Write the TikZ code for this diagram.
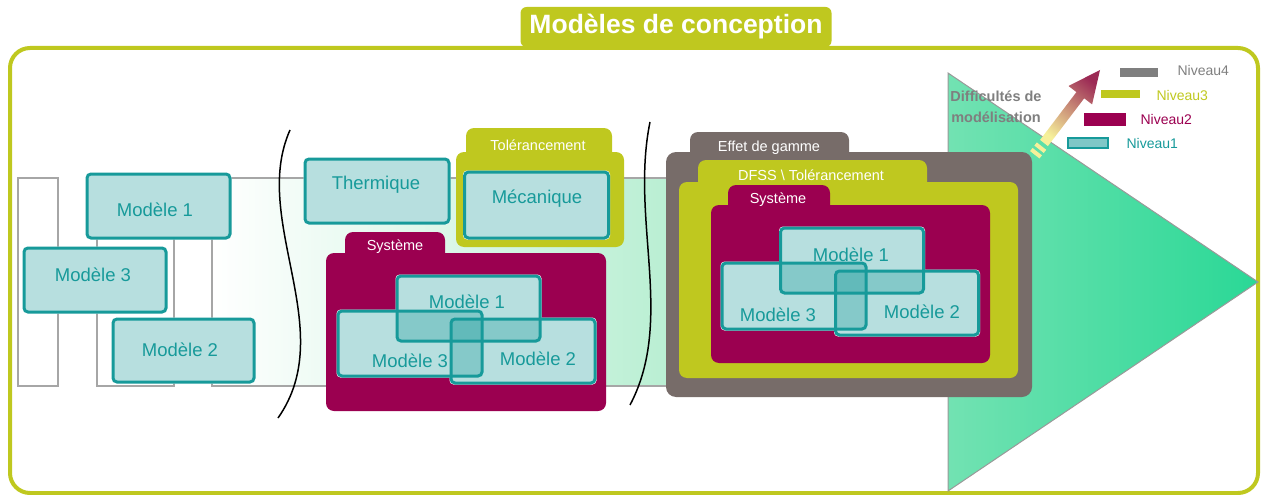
\documentclass[tikz,border=0pt]{standalone}
\usepackage{fontspec}
\setmainfont{Liberation Sans}

\definecolor{vertolive}{HTML}{BFC81F}
\definecolor{bordeaux}{HTML}{9B0050}
\definecolor{taupe}{HTML}{776C69}
\definecolor{sarcelle}{HTML}{179A9A}
\definecolor{bande}{HTML}{8FE5B8}
\definecolor{trigauche}{HTML}{72E2B2}
\definecolor{tridroite}{HTML}{2AD896}
\definecolor{flechebas}{HTML}{F6F09A}
\definecolor{flechehaut}{HTML}{9C2A55}
\definecolor{grisniv}{HTML}{7F7F7F}

\pgfdeclarelayer{fond}
\pgfdeclarelayer{dessous}
\pgfsetlayers{fond,dessous,main}

\tikzset{
  modele/.style={draw=sarcelle, line width=3pt, rounded corners=4pt, fill=sarcelle, fill opacity=.31,
    minimum width=143pt, minimum height=64pt, inner sep=0pt},
  modtxt/.style={text=sarcelle, font=\fontsize{18.5}{20}\selectfont},
  onglet/.style={text=white, font=\fontsize{14.5}{16}\selectfont},
  niveau/.style={anchor=west, font=\fontsize{14}{16}\selectfont},
  barre/.style={draw=gray!70, line width=1.5pt}
}

\begin{document}
\begin{tikzpicture}[x=1pt,y=-1pt]
\useasboundingbox (0,0) rectangle (1261,495);

\begin{pgfonlayer}{fond}
% cadre et titre
\draw[vertolive, line width=4pt, rounded corners=20pt] (10,48) rectangle (1258,493);
\node[fill=vertolive, rounded corners=6pt, minimum width=311pt, minimum height=40pt, text=white,
  font=\bfseries\fontsize{26.5}{30}\selectfont] (titre) at (676,27) {Modèles de conception};

% bandes
\draw[barre, fill=white] (18,178) rectangle (58,386);
\draw[barre, fill=white] (97,178) rectangle (174,386);
\shadedraw[barre, left color=white, right color=bande] (212,178) rectangle (948,386);

% triangle
\shadedraw[left color=trigauche, right color=tridroite, draw=gray!80, line width=1pt]
  (948,73) -- (1258,282) -- (948,491) -- cycle;

% coupures
\draw[line width=1.5pt] (290,130) .. controls (250,220) and (340,330) .. (278,418);
\draw[line width=1.5pt] (650,122) .. controls (630,220) and (675,320) .. (630,405);

% Tolerancement
\fill[vertolive, rounded corners=8pt] (466,128) rectangle (612,170);
\fill[vertolive, rounded corners=8pt] (456,152) rectangle (624,247);
\node[onglet] (tol) at (538,145) {Tolérancement};

% Systeme (milieu)
\fill[bordeaux, rounded corners=8pt] (345,232) rectangle (445,270);
\fill[bordeaux, rounded corners=8pt] (326,253) rectangle (606,411);
\node[onglet] (sysa) at (395,247) {Système};

% Effet de gamme / DFSS / Systeme
\fill[taupe, rounded corners=8pt] (690,132) rectangle (849,170);
\fill[taupe, rounded corners=10pt] (666,152) rectangle (1032,397);
\node[onglet] (effet) at (769,148) {Effet de gamme};
\fill[vertolive, rounded corners=8pt] (698,160) rectangle (927,200);
\fill[vertolive, rounded corners=8pt] (679,182) rectangle (1018,378);
\node[onglet] (dfss) at (811,175) {DFSS \textbackslash\ Tolérancement};
\fill[bordeaux, rounded corners=8pt] (728,185) rectangle (830,220);
\fill[bordeaux, rounded corners=8pt] (711,205) rectangle (990,363);
\node[onglet] (sysb) at (778,200) {Système};

% fleche
\shade[top color=flechehaut, bottom color=flechebas, shading angle=-38]
  (1040.1,139.9) -- (1076.4,92.1) -- (1068.5,86.0) -- (1100,70) -- (1092.1,104.4)
  -- (1084.2,98.3) -- (1047.9,146.1) -- cycle;
\draw[flechebas, line width=4pt] (1035.6,144.0) -- (1045.0,151.4);
\draw[flechebas, line width=4pt] (1031.3,149.5) -- (1040.7,156.9);
\node[text=grisniv, font=\bfseries\fontsize{14.5}{21}\selectfont, align=center] (diff) at (996,107)
  {Difficultés de\\modélisation};

% legende
\fill[grisniv] (1120,68) rectangle (1158,77);
\node[niveau, text=grisniv] (niv4) at (1174,70) {Niveau4};
\fill[vertolive] (1101,90) rectangle (1140,98);
\node[niveau, text=vertolive] (niv3) at (1153,95) {Niveau3};
\fill[bordeaux] (1084,113) rectangle (1126,126);
\node[niveau, text=bordeaux] (niv2) at (1137,119) {Niveau2};
\filldraw[fill=sarcelle!55, draw=sarcelle, line width=1.5pt] (1068,138) rectangle (1108,148);
\node[niveau, text=sarcelle] (niv1) at (1123,143) {Niveau1};
\end{pgfonlayer}

% modeles a gauche
\node[modele] (ga) at (158.5,206) {};
\node[modele, minimum width=142pt] (gc) at (95,280) {};
\node[modele, minimum width=141pt, minimum height=63pt] (gb) at (183.5,350.5) {};
\node[modtxt] (tga) at (155,210) {Modèle 1};
\node[modtxt] (tgc) at (93,275) {Modèle 3};
\node[modtxt] (tgb) at (180,350) {Modèle 2};

% thermique, mecanique
\node[modele, minimum width=144pt] (th) at (377,191) {};
\node[modtxt] (tth) at (376,185) {Thermique};
\node[modele, minimum width=144pt, minimum height=66pt] (mec) at (536.5,205) {};
\node[modtxt] (tmec) at (537,199) {Mécanique};

% modeles dans le systeme (milieu)
\node[modele, minimum height=65pt] (ca) at (468.5,308.5) {};
\node[modele, minimum width=144pt, minimum height=65pt] (cc) at (410,343.5) {};
\node[modele, minimum width=144pt] (cb) at (523,351) {};
\node[modtxt] (tca) at (467,302) {Modèle 1};
\node[modtxt] (tcc) at (410,361) {Modèle 3};
\node[modtxt] (tcb) at (538,359) {Modèle 2};

% modeles dans le systeme (droite)
\node[modele, minimum height=65pt] (da) at (852,260.5) {};
\node[modele, minimum width=144pt, minimum height=66pt] (dc) at (794,296) {};
\node[modele] (db) at (907,303) {};
\node[modtxt] (tda) at (851,255) {Modèle 1};
\node[modtxt] (tdc) at (778,315) {Modèle 3};
\node[modtxt] (tdb) at (922,312) {Modèle 2};

\begin{pgfonlayer}{dessous}
\foreach \b in {ga,gb,gc,th,mec,ca,cb,cc,da,db,dc}
  \fill[white, rounded corners=4pt] (\b.south west) rectangle (\b.north east);
\end{pgfonlayer}
\end{tikzpicture}
\end{document}
